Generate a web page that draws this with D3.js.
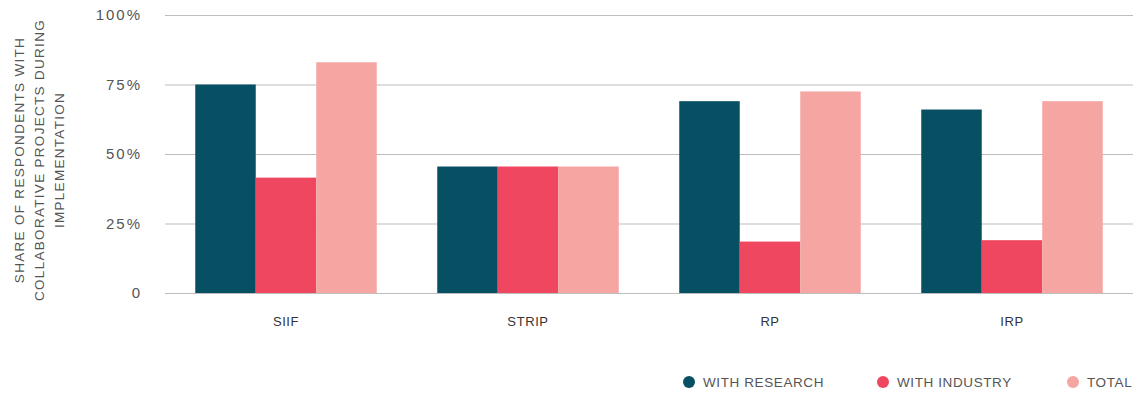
<!DOCTYPE html>
<html>
<head>
<meta charset="utf-8">
<script src="https://cdn.jsdelivr.net/npm/d3@7"></script>
<style>
  html, body { margin: 0; padding: 0; background: #fff; }
  svg { display: block; font-family: "Liberation Sans", Arial, sans-serif; }
</style>
</head>
<body>
<svg id="chart" width="1145" height="394"></svg>
<script>
// Programmes and the share of respondents with collaborative projects (%)
const categories = ["SIIF", "STRIP", "RP", "IRP"];
const seriesNames = ["WITH RESEARCH", "WITH INDUSTRY", "TOTAL"];
const withResearch = [75, 45.5, 69, 66];
const withIndustry = [41.5, 45.5, 18.5, 19];
const total = [83, 45.5, 72.5, 69];
const yTicks = [0, 25, 50, 75, 100];
const colors = ["#074f63", "#ef4760", "#f5a5a2"];

const series = [withResearch, withIndustry, total];

const svg = d3.select("#chart");
const margin = { left: 165, right: 12, top: 15, bottom: 101 };
const W = 1145, H = 394;

const x0 = d3.scaleBand()
  .domain(categories)
  .range([margin.left, W - margin.right])
  .paddingInner(0.25)
  .paddingOuter(0.125);

const x1 = d3.scaleBand()
  .domain(seriesNames)
  .range([0, x0.bandwidth()]);

const y = d3.scaleLinear()
  .domain([0, 100])
  .range([H - margin.bottom, margin.top]);

// Horizontal gridlines with tick labels
const yAxis = svg.append("g")
  .attr("transform", `translate(${margin.left},0)`)
  .call(d3.axisLeft(y)
    .tickValues(yTicks)
    .tickSize(-(W - margin.left - margin.right))
    .tickPadding(23)
    .tickFormat(d => d === 0 ? "0" : d + "%"));
yAxis.select(".domain").remove();
yAxis.selectAll(".tick line").attr("stroke", "#bdbdbd").attr("stroke-width", 1.2);
yAxis.selectAll(".tick text")
  .attr("fill", "#555")
  .style("font-size", "15px")
  .style("letter-spacing", "2px");

// Bars
const groups = svg.append("g")
  .selectAll("g")
  .data(categories)
  .join("g")
  .attr("transform", d => `translate(${x0(d)},0)`);

groups.selectAll("rect")
  .data((d, i) => seriesNames.map((s, j) => ({ s, v: series[j][i], j })))
  .join("rect")
  .attr("x", d => x1(d.s))
  .attr("y", d => y(d.v))
  .attr("width", x1.bandwidth())
  .attr("height", d => y(0) - y(d.v))
  .attr("fill", d => colors[d.j]);

// Category labels
const xAxis = svg.append("g")
  .attr("transform", `translate(0,${y(0)})`)
  .call(d3.axisBottom(x0).tickSize(0).tickPadding(24));
xAxis.select(".domain").remove();
xAxis.selectAll(".tick text")
  .attr("fill", "#333")
  .style("font-size", "13px")
  .style("letter-spacing", "0.6px");

// Y axis title
const title = svg.append("text")
  .attr("transform", `translate(40,160) rotate(-90)`)
  .attr("text-anchor", "middle")
  .attr("fill", "#555")
  .style("font-size", "13.5px")
  .style("letter-spacing", "1.3px");
["SHARE OF RESPONDENTS WITH", "COLLABORATIVE PROJECTS DURING", "IMPLEMENTATION"].forEach((t, i) => {
  title.append("tspan")
    .attr("x", 0)
    .attr("y", (i - 1) * 20 + 4)
    .text(t);
});

// Legend
const legendX = [689, 883, 1073];
const legend = svg.append("g")
  .selectAll("g")
  .data(seriesNames)
  .join("g")
  .attr("transform", (d, i) => `translate(${legendX[i]},382)`);
legend.append("circle").attr("r", 6).attr("fill", (d, i) => colors[i]);
legend.append("text")
  .attr("x", 14)
  .attr("dy", "0.36em")
  .attr("fill", "#555")
  .style("font-size", "13.5px")
  .style("letter-spacing", "0.6px")
  .text(d => d);
</script>
</body>
</html>
